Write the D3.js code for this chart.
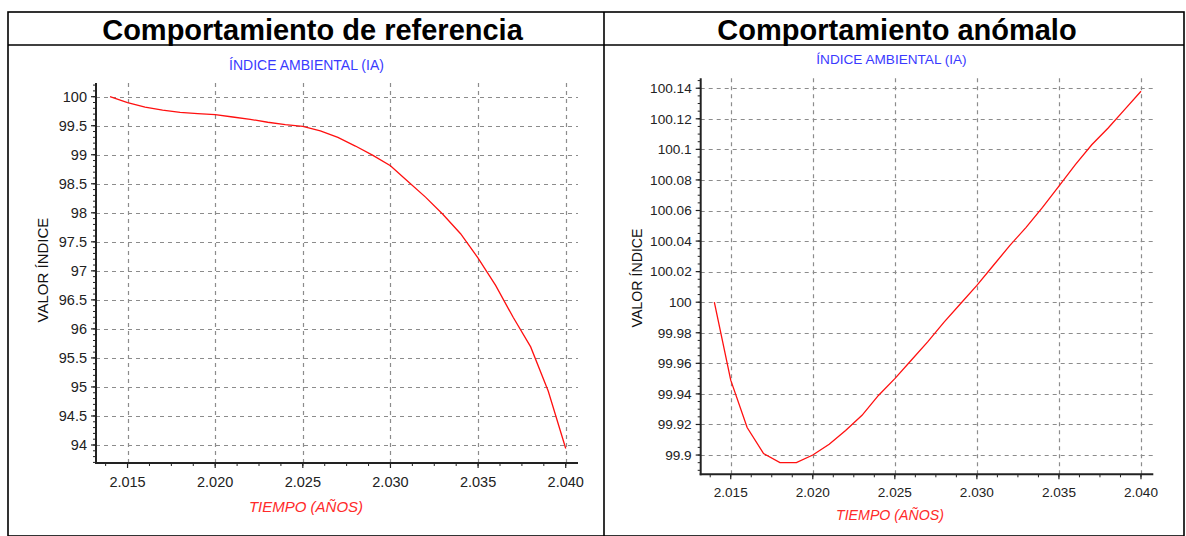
<!DOCTYPE html>
<html>
<head>
<meta charset="utf-8">
<script src="https://cdn.jsdelivr.net/npm/d3@7/dist/d3.min.js"></script>
<style>
  html, body { margin: 0; padding: 0; background: #fff; }
  svg { display: block; font-family: "Liberation Sans", Arial, sans-serif; }
</style>
</head>
<body>
<svg id="chart" width="1186" height="536"></svg>
<script>
// Years simulated
const years = [2014, 2015, 2016, 2017, 2018, 2019, 2020, 2021, 2022, 2023, 2024, 2025, 2026,
               2027, 2028, 2029, 2030, 2031, 2032, 2033, 2034, 2035, 2036, 2037, 2038, 2039, 2040];

// Environmental index, reference behaviour
const referenceValues = [100.00, 99.90, 99.82, 99.77, 99.73, 99.71, 99.69, 99.65, 99.61, 99.56,
                         99.52, 99.49, 99.41, 99.30, 99.15, 98.99, 98.81, 98.54, 98.27, 97.97,
                         97.64, 97.22, 96.75, 96.20, 95.69, 94.93, 93.94];

// Environmental index, anomalous behaviour
const anomalousValues = [100.000, 99.949, 99.918, 99.901, 99.895, 99.895, 99.900, 99.907, 99.916,
                         99.926, 99.939, 99.950, 99.962, 99.974, 99.987, 99.999, 100.011, 100.024,
                         100.037, 100.049, 100.062, 100.076, 100.090, 100.103, 100.114, 100.126,
                         100.138];

// Tick values and their printed labels
const xTicks = [2015, 2020, 2025, 2030, 2035, 2040];
const xTickLabels = ["2.015", "2.020", "2.025", "2.030", "2.035", "2.040"];
const refYTicks = [94, 94.5, 95, 95.5, 96, 96.5, 97, 97.5, 98, 98.5, 99, 99.5, 100];
const refYTickLabels = ["94", "94.5", "95", "95.5", "96", "96.5", "97", "97.5", "98", "98.5", "99", "99.5", "100"];
const anoYTicks = [99.90, 99.92, 99.94, 99.96, 99.98, 100.00, 100.02, 100.04, 100.06, 100.08, 100.10, 100.12, 100.14];
const anoYTickLabels = ["99.9", "99.92", "99.94", "99.96", "99.98", "100", "100.02", "100.04", "100.06", "100.08", "100.1", "100.12", "100.14"];

// Text
const panelTitles = ["Comportamiento de referencia", "Comportamiento anómalo"];
const chartTitle = "ÍNDICE AMBIENTAL (IA)";
const yAxisTitle = "VALOR ÍNDICE";
const xAxisTitle = "TIEMPO (AÑOS)";

const svg = d3.select("#chart");

// Table frame around the two panels
const frame = svg.append("g").attr("stroke", "#000").attr("stroke-width", 1.6).attr("fill", "none");
frame.append("rect").attr("x", 8).attr("y", 12).attr("width", 1176).attr("height", 524);
frame.append("line").attr("x1", 8).attr("x2", 1184).attr("y1", 45).attr("y2", 45);
frame.append("line").attr("x1", 604).attr("x2", 604).attr("y1", 12).attr("y2", 536);

svg.selectAll("text.panel-title")
  .data([{t: panelTitles[0], x: 312.5}, {t: panelTitles[1], x: 897}])
  .join("text")
  .attr("class", "panel-title")
  .attr("x", d => d.x).attr("y", 39.5)
  .attr("text-anchor", "middle")
  .attr("font-size", 29).attr("font-weight", "bold").attr("fill", "#000")
  .text(d => d.t);

function drawPanel(cfg) {
  const g = svg.append("g");
  const x = d3.scaleLinear().domain(cfg.xDomain).range([cfg.left, cfg.right]);
  const y = d3.scaleLinear().domain(cfg.yDomain).range([cfg.bottom, cfg.top]);

  // Chart title
  g.append("text")
    .attr("x", cfg.titleX).attr("y", cfg.titleY)
    .attr("text-anchor", "middle")
    .attr("font-size", cfg.titleFont).attr("fill", "#3a3aff")
    .text(chartTitle);

  // Dashed grid
  const grid = g.append("g").attr("stroke", "#8c8c8c").attr("stroke-width", 1.2)
    .attr("stroke-dasharray", "4,4");
  grid.selectAll("line.h").data(cfg.yTicks).join("line")
    .attr("x1", cfg.left).attr("x2", cfg.right)
    .attr("y1", d => Math.round(y(d)) + 0.5).attr("y2", d => Math.round(y(d)) + 0.5);
  grid.selectAll("line.v").data(xTicks).join("line")
    .attr("y1", cfg.bottom).attr("y2", cfg.top)
    .attr("x1", d => Math.round(x(d)) + 0.5).attr("x2", d => Math.round(x(d)) + 0.5);

  // Minor ticks
  const minorX = d3.range(cfg.xMinorStart, cfg.xDomain[1], 1.25);
  const minorY = d3.range(cfg.yMinorStart, cfg.yDomain[1], cfg.yMinorStep);
  const axes = g.append("g").attr("stroke", "#222");
  axes.selectAll("line.mx").data(minorX).join("line")
    .attr("x1", d => x(d)).attr("x2", d => x(d))
    .attr("y1", cfg.bottom).attr("y2", cfg.bottom + 3).attr("stroke-width", 1);
  axes.selectAll("line.my").data(minorY).join("line")
    .attr("y1", d => y(d)).attr("y2", d => y(d))
    .attr("x1", cfg.left - 3).attr("x2", cfg.left).attr("stroke-width", 1);
  // Major ticks
  axes.selectAll("line.Mx").data(xTicks).join("line")
    .attr("x1", d => x(d)).attr("x2", d => x(d))
    .attr("y1", cfg.bottom).attr("y2", cfg.bottom + 5).attr("stroke-width", 1.2);
  axes.selectAll("line.My").data(cfg.yTicks).join("line")
    .attr("y1", d => y(d)).attr("y2", d => y(d))
    .attr("x1", cfg.left - 5).attr("x2", cfg.left).attr("stroke-width", 1.2);

  // Axis lines
  axes.append("line").attr("x1", cfg.left).attr("x2", cfg.left)
    .attr("y1", cfg.top).attr("y2", cfg.bottom + 1).attr("stroke-width", 2);
  axes.append("line").attr("x1", cfg.left - 1).attr("x2", cfg.right)
    .attr("y1", cfg.bottom).attr("y2", cfg.bottom).attr("stroke-width", 2);

  // Tick labels
  g.selectAll("text.yl").data(cfg.yTicks).join("text")
    .attr("x", cfg.left - 9).attr("y", d => y(d))
    .attr("dy", "0.35em").attr("text-anchor", "end")
    .attr("font-size", cfg.tickFont).attr("fill", "#222")
    .text((d, i) => cfg.yTickLabels[i]);
  g.selectAll("text.xl").data(xTicks).join("text")
    .attr("x", d => x(d)).attr("y", cfg.xLabelY)
    .attr("text-anchor", "middle")
    .attr("font-size", cfg.tickFont).attr("fill", "#222")
    .text((d, i) => xTickLabels[i]);

  // Axis titles
  g.append("text")
    .attr("transform", `translate(${cfg.yTitleX},${cfg.yTitleY}) rotate(-90)`)
    .attr("text-anchor", "middle").attr("dy", "0.35em")
    .attr("font-size", cfg.axisFont).attr("fill", "#111")
    .text(yAxisTitle);
  g.append("text")
    .attr("x", cfg.xTitleX).attr("y", cfg.xTitleY)
    .attr("text-anchor", "middle").attr("font-style", "italic")
    .attr("font-size", cfg.axisFont).attr("fill", "#ff2a2a")
    .text(xAxisTitle);

  // Series line
  const line = d3.line().x((d, i) => x(years[i])).y(d => y(d));
  g.append("path").datum(cfg.values)
    .attr("d", line).attr("fill", "none")
    .attr("stroke", "#ff1010").attr("stroke-width", 1.3);
}

drawPanel({
  values: referenceValues,
  xDomain: [2013.2, 2040.7], yDomain: [93.69, 100.236],
  left: 96, right: 578, top: 83, bottom: 463,
  yTicks: refYTicks, yTickLabels: refYTickLabels,
  xMinorStart: 2013.75, yMinorStart: 93.7, yMinorStep: 0.1,
  tickFont: 14.5, titleFont: 14, axisFont: 15,
  titleX: 306.5, titleY: 70,
  xLabelY: 487, yTitleX: 43, yTitleY: 270,
  xTitleX: 306, xTitleY: 512
});

drawPanel({
  values: anomalousValues,
  xDomain: [2013.17, 2040.75], yDomain: [99.8874, 100.1465],
  left: 700.7, right: 1153.3, top: 78.3, bottom: 474.3,
  yTicks: anoYTicks, yTickLabels: anoYTickLabels,
  xMinorStart: 2013.75, yMinorStart: 99.89, yMinorStep: 0.005,
  tickFont: 13.6, titleFont: 13.6, axisFont: 14.2,
  titleX: 891.5, titleY: 64,
  xLabelY: 497, yTitleX: 637, yTitleY: 278,
  xTitleX: 890, xTitleY: 520
});
</script>
</body>
</html>
